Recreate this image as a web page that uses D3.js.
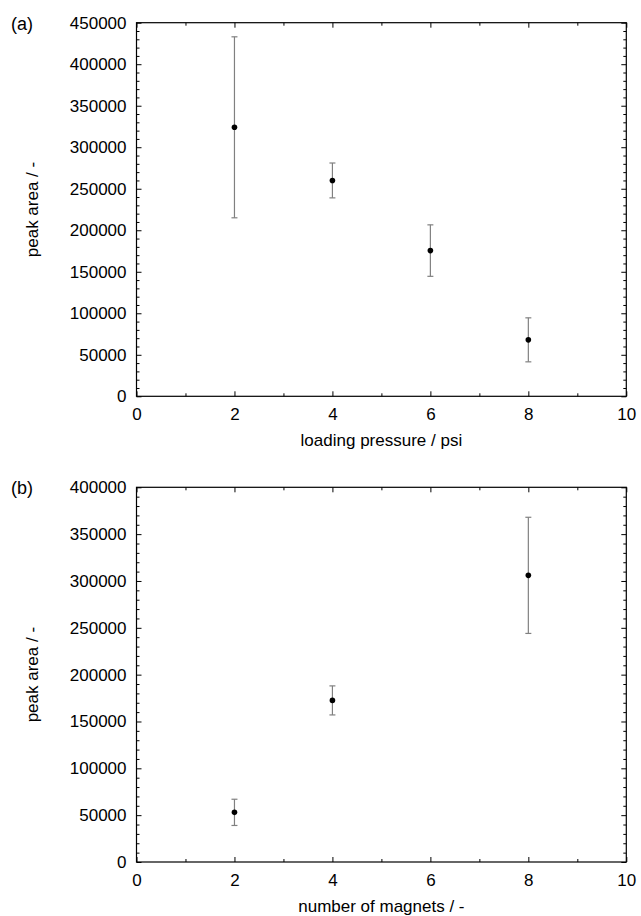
<!DOCTYPE html>
<html>
<head>
<meta charset="utf-8">
<script src="https://cdn.jsdelivr.net/npm/d3@7"></script>
<style>
  body { margin: 0; background: #fff; }
  text { font-family: "Liberation Sans", Arial, sans-serif; fill: #000; }
</style>
</head>
<body>
<div id="chart"></div>
<script>
// data
const pressure = [2, 4, 6, 8];
const pressureArea = [324000, 260000, 175500, 68000];
const pressureErr = [109000, 21000, 31000, 26500];

const magnets = [2, 4, 8];
const magnetArea = [53000, 172500, 306000];
const magnetErr = [14000, 15500, 62000];

const xTicks = [0, 2, 4, 6, 8, 10];
const yTicksA = [0, 50000, 100000, 150000, 200000, 250000, 300000, 350000, 400000, 450000];
const yTicksB = [0, 50000, 100000, 150000, 200000, 250000, 300000, 350000, 400000];

const svgWidth = 641, svgHeight = 916;
const svg = d3.select("#chart")
    .append("svg")
    .attr("width", svgWidth)
    .attr("height", svgHeight);

const left = 136.5, right = 626.3;
const fontSize = "17px";

function panel(opts) {
    const x = d3.scaleLinear().domain([0, 10]).range([left, right]);
    const y = d3.scaleLinear().domain([0, opts.yMax]).range([opts.bottom, opts.top]);
    const g = svg.append("g");

    const xMinor = d3.range(1, 10, 2);
    const yMinor = d3.range(0, opts.yMax + 1, 10000).filter(v => v % 50000 !== 0);

    // major + minor ticks on all four sides, pointing inward
    const axes = [
        [d3.axisBottom(x).tickValues(xTicks).tickSize(-5).tickFormat(d3.format("d")), `translate(0,${opts.bottom})`, 12],
        [d3.axisBottom(x).tickValues(xMinor).tickSize(-3).tickFormat(""), `translate(0,${opts.bottom})`, 0],
        [d3.axisTop(x).tickValues(xTicks).tickSize(-5).tickFormat(""), `translate(0,${opts.top})`, 0],
        [d3.axisTop(x).tickValues(xMinor).tickSize(-3).tickFormat(""), `translate(0,${opts.top})`, 0],
        [d3.axisLeft(y).tickValues(opts.yTicks).tickSize(-5).tickFormat(d3.format("d")), `translate(${left},0)`, 10],
        [d3.axisLeft(y).tickValues(yMinor).tickSize(-3).tickFormat(""), `translate(${left},0)`, 0],
        [d3.axisRight(y).tickValues(opts.yTicks).tickSize(-5).tickFormat(""), `translate(${right},0)`, 0],
        [d3.axisRight(y).tickValues(yMinor).tickSize(-3).tickFormat(""), `translate(${right},0)`, 0]
    ];
    axes.forEach(([axis, tr, pad]) => {
        const a = g.append("g")
            .attr("transform", tr)
            .call(axis.tickSizeOuter(0).tickPadding(pad));
        a.select(".domain").remove();
        a.selectAll("line").attr("stroke", "#000");
        a.selectAll("text")
            .style("font-family", "'Liberation Sans', Arial, sans-serif")
            .style("font-size", fontSize)
            .attr("fill", "#000");
    });

    // frame
    g.append("rect")
        .attr("x", left)
        .attr("y", opts.top)
        .attr("width", right - left)
        .attr("height", opts.bottom - opts.top)
        .attr("fill", "none")
        .attr("stroke", "#000")
        .attr("stroke-width", 1.2);

    const pts = opts.xs.map((v, i) => ({ x: v, y: opts.ys[i], e: opts.es[i] }));

    // error bars
    const eb = g.append("g").attr("stroke", "#808080").attr("stroke-width", 1.2);
    eb.selectAll(".bar").data(pts).enter().append("line")
        .attr("x1", d => x(d.x)).attr("x2", d => x(d.x))
        .attr("y1", d => y(d.y - d.e)).attr("y2", d => y(d.y + d.e));
    eb.selectAll(".capHi").data(pts).enter().append("line")
        .attr("x1", d => x(d.x) - 3).attr("x2", d => x(d.x) + 3)
        .attr("y1", d => y(d.y + d.e)).attr("y2", d => y(d.y + d.e));
    eb.selectAll(".capLo").data(pts).enter().append("line")
        .attr("x1", d => x(d.x) - 3).attr("x2", d => x(d.x) + 3)
        .attr("y1", d => y(d.y - d.e)).attr("y2", d => y(d.y - d.e));

    // points
    g.selectAll("circle").data(pts).enter().append("circle")
        .attr("cx", d => x(d.x))
        .attr("cy", d => y(d.y))
        .attr("r", 2.8)
        .attr("fill", "#000");

    // axis labels
    g.append("text")
        .attr("x", (left + right) / 2)
        .attr("y", opts.bottom + 50)
        .attr("text-anchor", "middle")
        .style("font-size", fontSize)
        .text(opts.xLabel);

    g.append("text")
        .attr("transform", `translate(38,${(opts.top + opts.bottom) / 2}) rotate(-90)`)
        .attr("text-anchor", "middle")
        .style("font-size", fontSize)
        .text("peak area / -");

    g.append("text")
        .attr("x", 11)
        .attr("y", opts.top + 7)
        .style("font-size", "18px")
        .text(opts.tag);
}

panel({
    top: 22.7, bottom: 396.3, yMax: 450000, yTicks: yTicksA,
    xs: pressure, ys: pressureArea, es: pressureErr,
    xLabel: "loading pressure / psi", tag: "(a)"
});

panel({
    top: 487.3, bottom: 862, yMax: 400000, yTicks: yTicksB,
    xs: magnets, ys: magnetArea, es: magnetErr,
    xLabel: "number of magnets / -", tag: "(b)"
});
</script>
</body>
</html>
